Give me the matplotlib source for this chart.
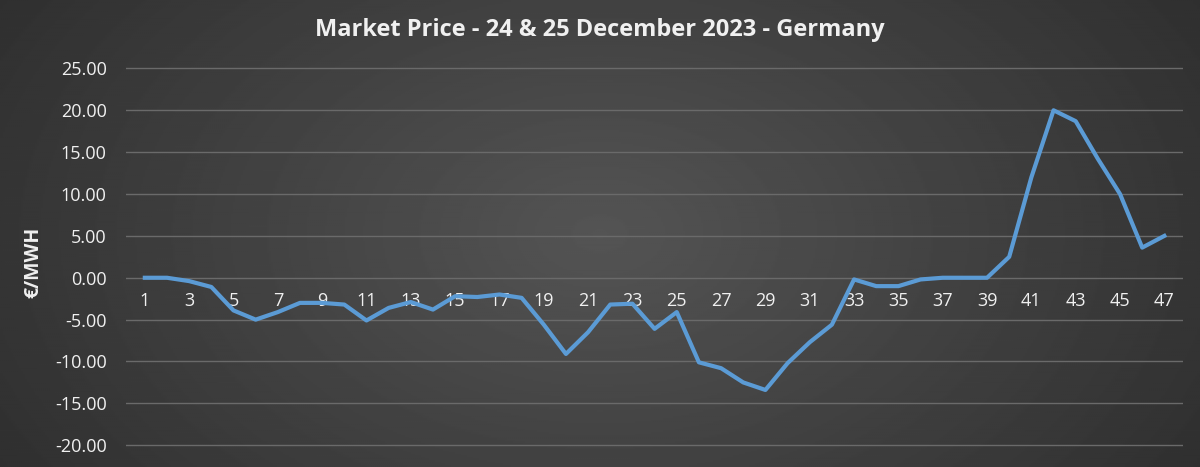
import numpy as np
import matplotlib.pyplot as plt
from matplotlib.ticker import FormatStrFormatter

hours = list(range(1, 48))
price = [0.0, 0.0, -0.4, -1.1, -3.9, -5.0, -4.1, -3.0, -3.0, -3.2,
         -5.1, -3.6, -2.9, -3.8, -2.2, -2.3, -2.0, -2.4, -5.6, -9.1,
         -6.5, -3.2, -3.1, -6.1, -4.1, -10.1, -10.8, -12.5, -13.4, -10.2,
         -7.7, -5.6, -0.2, -1.0, -1.0, -0.2, 0.0, 0.0, 0.0, 2.5,
         12.0, 20.0, 18.7, 14.2, 10.0, 3.6, 5.0]
yticks = [-20, -15, -10, -5, 0, 5, 10, 15, 20, 25]

plt.rcParams['font.family'] = ['Open Sans', 'DejaVu Sans']
fig = plt.figure(figsize=(12, 4.67), dpi=100)

# radial gradient background
bg = fig.add_axes([0, 0, 1, 1])
yy, xx = np.mgrid[-1:1:300j, -1:1:600j]
r = np.sqrt(xx**2 + (yy * 0.6)**2)
bg.imshow(0.33 - 0.16 * np.clip(r, 0, 1.3) / 1.3, cmap='gray', vmin=0, vmax=1,
          aspect='auto', extent=[0, 1, 0, 1])
bg.axis('off')

ax = fig.add_axes([0.105, 0.0, 0.881, 0.875])
ax.patch.set_alpha(0)
ax.plot(hours, price, color='#5b9bd5', linewidth=3)
ax.set_xlim(0.15, 47.85)
ax.set_ylim(-22.6, 26.2)
ax.set_yticks(yticks)
ax.yaxis.set_major_formatter(FormatStrFormatter('%.2f'))
ax.grid(axis='y', color='#6a6a6a', linewidth=1)
ax.set_axisbelow(True)
for s in ax.spines.values():
    s.set_visible(False)
ax.spines['bottom'].set_position(('data', 0))
ax.set_xticks(hours[::2])
ax.tick_params(axis='x', length=0, colors='#f0f0f0', labelsize=13, pad=10)
ax.tick_params(axis='y', length=0, colors='#f0f0f0', labelsize=13, pad=14)
ax.set_ylabel('€/MWH', color='#f0f0f0', fontsize=14, fontweight='bold', labelpad=8)
fig.text(0.5, 0.935, 'Market Price - 24 & 25 December 2023 - Germany',
         ha='center', va='center', color='#f0f0f0', fontsize=17, fontweight='bold')

fig.savefig('out.png', dpi=100)
